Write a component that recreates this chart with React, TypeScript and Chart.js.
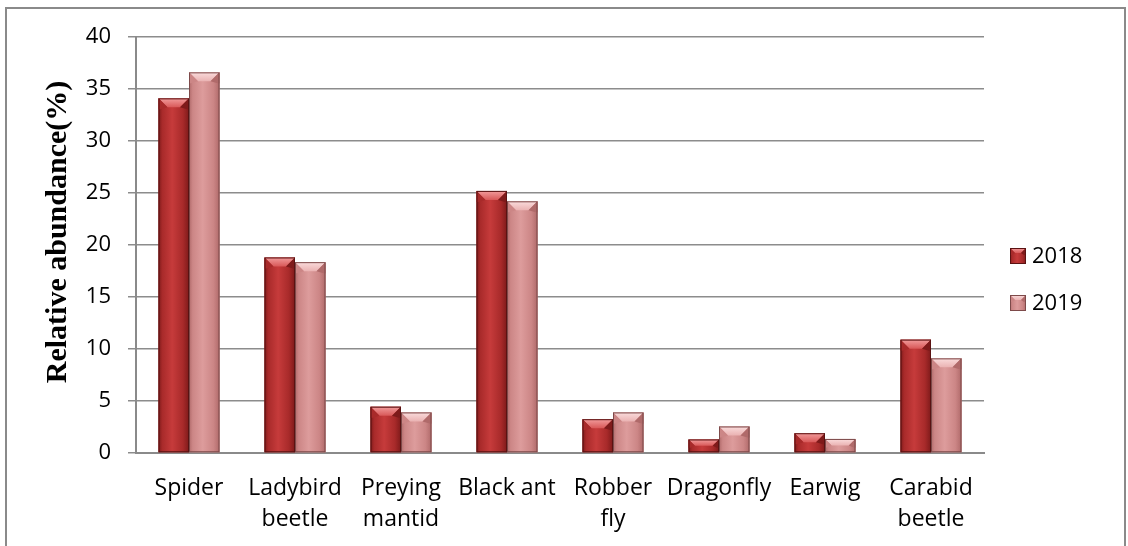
import React, { useEffect, useRef } from "react";
import { Chart, registerables } from "chart.js";

Chart.register(...registerables);

const categories: (string | string[])[] = [
  "Spider",
  ["Ladybird", "beetle"],
  ["Preying", "mantid"],
  "Black ant",
  ["Robber", "fly"],
  "Dragonfly",
  "Earwig",
  ["Carabid", "beetle"],
];
const values2018 = [34.1, 18.8, 4.45, 25.2, 3.25, 1.3, 1.9, 10.9];
const values2019 = [36.6, 18.35, 3.9, 24.2, 3.9, 2.55, 1.35, 9.1];
const seriesNames = ["2018", "2019"];
const yTitle = "Relative abundance(%)";

const palettes = [
  { dark: "#7e1a1a", mid: "#a82a2a", light: "#c63b3b", top: "#d85858", topLight: "#f29c9c", edge: "#5a1212" },
  { dark: "#b06a6a", mid: "#cc8686", light: "#dd9c9c", top: "#eab2b2", topLight: "#fadcdc", edge: "#7d4a4a" },
];

const FONT = "'Open Sans', sans-serif";

function paintBar(ctx: CanvasRenderingContext2D, left: number, right: number, top: number, bottom: number, p: any, bev = 8) {
  const w = right - left;
  const h = bottom - top;
  if (h <= 0) return;
  const g = ctx.createLinearGradient(left, 0, right, 0);
  g.addColorStop(0, p.dark);
  g.addColorStop(0.12, p.mid);
  g.addColorStop(0.45, p.light);
  g.addColorStop(0.8, p.mid);
  g.addColorStop(1, p.dark);
  ctx.fillStyle = g;
  ctx.fillRect(left, top, w, h);
  const b = Math.min(bev, h / 2, w / 2);
  const tg = ctx.createLinearGradient(0, top, 0, top + b);
  tg.addColorStop(0, p.topLight);
  tg.addColorStop(1, p.top);
  ctx.fillStyle = tg;
  ctx.beginPath();
  ctx.moveTo(left, top);
  ctx.lineTo(right, top);
  ctx.lineTo(right - b, top + b);
  ctx.lineTo(left + b, top + b);
  ctx.closePath();
  ctx.fill();
  ctx.fillStyle = p.mid;
  ctx.beginPath();
  ctx.moveTo(left, top);
  ctx.lineTo(left + b, top + b);
  ctx.lineTo(left + 2, top + b + 2);
  ctx.lineTo(left, top + b + 2);
  ctx.closePath();
  ctx.fill();
  ctx.fillStyle = p.dark;
  ctx.beginPath();
  ctx.moveTo(right, top);
  ctx.lineTo(right - b, top + b);
  ctx.lineTo(right - 2, top + b + 2);
  ctx.lineTo(right, top + b + 2);
  ctx.closePath();
  ctx.fill();
  ctx.strokeStyle = p.edge;
  ctx.lineWidth = 1;
  ctx.strokeRect(left + 0.5, top + 0.5, w - 1, h - 1);
}

const decorPlugin = {
  id: "decor",
  beforeDraw(chart: any) {
    const ctx = chart.ctx as CanvasRenderingContext2D;
    ctx.save();
    ctx.fillStyle = "#ffffff";
    ctx.fillRect(0, 0, chart.width, chart.height);
    ctx.strokeStyle = "#8a8a8a";
    ctx.lineWidth = 2;
    ctx.beginPath();
    ctx.moveTo(6, chart.height + 5);
    ctx.lineTo(6, 8);
    ctx.lineTo(1125, 8);
    ctx.lineTo(1125, chart.height + 5);
    ctx.stroke();
    ctx.restore();
  },
  afterDatasetsDraw(chart: any) {
    const ctx = chart.ctx as CanvasRenderingContext2D;
    ctx.save();
    chart.data.datasets.forEach((_: any, di: number) => {
      const meta = chart.getDatasetMeta(di);
      meta.data.forEach((el: any) => {
        const { x, y, base, width } = el.getProps(["x", "y", "base", "width"], true);
        paintBar(ctx, x - width / 2, x + width / 2, Math.min(y, base), Math.max(y, base), palettes[di], 9);
      });
    });
    ctx.restore();
  },
  afterDraw(chart: any) {
    const ctx = chart.ctx as CanvasRenderingContext2D;
    ctx.save();
    ctx.translate(58, 232);
    ctx.rotate(-Math.PI / 2);
    ctx.fillStyle = "#000";
    ctx.font = "bold 30px 'Liberation Serif', serif";
    ctx.textAlign = "center";
    ctx.textBaseline = "middle";
    ctx.fillText(yTitle, 0, 0);
    ctx.restore();
    ctx.save();
    const ys = [256, 303];
    seriesNames.forEach((name, i) => {
      paintBar(ctx, 1010, 1026, ys[i] - 8, ys[i] + 8, palettes[i], 5);
      ctx.fillStyle = "#000";
      ctx.font = `22px ${FONT}`;
      ctx.textAlign = "left";
      ctx.textBaseline = "middle";
      ctx.fillText(name, 1032, ys[i] + 1);
    });
    ctx.restore();
  },
};

export default function App() {
  const ref = useRef<HTMLCanvasElement | null>(null);
  useEffect(() => {
    if (!ref.current) return;
    const chart = new Chart(ref.current, {
      type: "bar",
      data: {
        labels: categories as any,
        datasets: [
          { label: seriesNames[0], data: values2018, backgroundColor: palettes[0].mid },
          { label: seriesNames[1], data: values2019, backgroundColor: palettes[1].mid },
        ],
      },
      options: {
        responsive: false,
        animation: false,
        devicePixelRatio: 1,
        layout: { padding: { left: 0, right: 144, top: 37, bottom: 0 } },
        plugins: { legend: { display: false }, tooltip: { enabled: false } },
        datasets: { bar: { categoryPercentage: 0.575, barPercentage: 1 } } as any,
        scales: {
          x: {
            offset: true,
            grid: { display: false, drawTicks: false },
            border: { display: true, color: "#8a8a8a", width: 2 },
            ticks: {
              color: "#000",
              font: { family: FONT, size: 23, lineHeight: 1.35 },
              maxRotation: 0,
              autoSkip: false,
              padding: 20,
            },
            afterFit: (s: any) => {
              s.height = 93;
            },
          },
          y: {
            min: 0,
            max: 40,
            ticks: {
              stepSize: 5,
              color: "#000",
              font: { family: FONT, size: 22 },
              padding: 17,
            },
            grid: { color: "#8c8c8c", lineWidth: 1.5, tickLength: 8, drawTicks: true },
            border: { display: true, color: "#8a8a8a", width: 2 },
            afterFit: (s: any) => {
              s.width = 136;
            },
          },
        },
      },
      plugins: [decorPlugin],
    });
    return () => chart.destroy();
  }, []);
  return (
    <div style={{ position: "absolute", left: 0, top: 0, width: 1128, height: 546 }}>
      <canvas ref={ref} width={1128} height={546} style={{ width: 1128, height: 546, display: "block" }} />
    </div>
  );
}
